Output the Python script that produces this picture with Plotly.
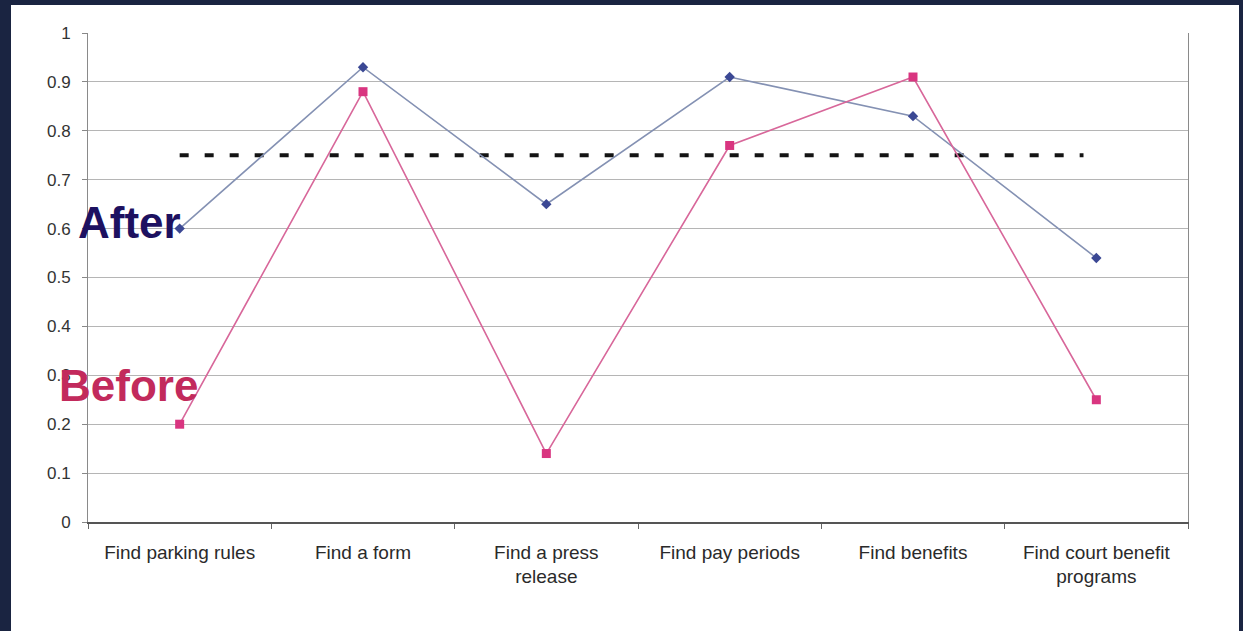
import plotly.graph_objects as go

categories = ["Find parking rules", "Find a form", "Find a press<br>release",
              "Find pay periods", "Find benefits", "Find court benefit<br>programs"]
after_vals = [0.60, 0.93, 0.65, 0.91, 0.83, 0.54]
before_vals = [0.20, 0.88, 0.14, 0.77, 0.91, 0.25]
target_val = 0.75
target_span = [0, 4.93]
y_ticks = [0, 0.1, 0.2, 0.3, 0.4, 0.5, 0.6, 0.7, 0.8, 0.9, 1]
y_ticktext = ["0", "0.1", "0.2", "0.3", "0.4", "0.5", "0.6", "0.7", "0.8", "0.9", "1"]

xs = list(range(len(categories)))
W, H = 1243, 631
L, R, T, B = 88, 55, 33, 109
pw, ph = W - L - R, H - T - B

def px_x(p):
    return (p - L) / pw

def px_y(p):
    return (H - B - p) / ph

fig = go.Figure()
fig.add_trace(go.Scatter(x=target_span, y=[target_val, target_val], mode="lines",
                         line=dict(color="#141414", width=4, dash="9px,16px"),
                         showlegend=False, hoverinfo="skip"))
fig.add_trace(go.Scatter(x=xs, y=after_vals, mode="lines+markers", name="After",
                         line=dict(color="#8491b3", width=1.6),
                         marker=dict(symbol="diamond", size=8, color="#3b4894"),
                         showlegend=False))
fig.add_trace(go.Scatter(x=xs, y=before_vals, mode="lines+markers", name="Before",
                         line=dict(color="#d8679a", width=1.6),
                         marker=dict(symbol="square", size=9, color="#d93580"),
                         showlegend=False))

fig.add_shape(type="rect", xref="paper", yref="paper",
              x0=px_x(11), x1=px_x(1239), y0=px_y(640), y1=px_y(5),
              fillcolor="white", line=dict(width=0), layer="below")

fig.add_annotation(text="<b>After</b>", xref="paper", yref="paper",
                   x=px_x(76), y=px_y(222), xanchor="left", yanchor="middle",
                   showarrow=False, font=dict(family="Liberation Sans, Arial", size=44, color="#1d1160"))
fig.add_annotation(text="<b>Before</b>", xref="paper", yref="paper",
                   x=px_x(57), y=px_y(385), xanchor="left", yanchor="middle",
                   showarrow=False, font=dict(family="Liberation Sans, Arial", size=44, color="#c22a5c"))

fig.update_layout(
    width=W, height=H,
    margin=dict(l=L, r=R, t=T, b=B),
    paper_bgcolor="#1a2441", plot_bgcolor="white",
    font=dict(family="Liberation Sans, Arial", color="#333333"),
    showlegend=False,
)
fig.update_xaxes(range=[-0.5, 5.5], tickvals=xs, ticktext=categories,
                 ticks="", showgrid=False, zeroline=False,
                 showline=True, linecolor="#555555", linewidth=1.5, mirror=False,
                 tickfont=dict(size=19, color="#2a2a2a"), ticklabelstandoff=12,
                 minor=dict(ticks="outside", tick0=0.5, dtick=1, ticklen=5, tickcolor="#666666", showgrid=False))
fig.update_yaxes(range=[0, 1], tickvals=y_ticks, ticktext=y_ticktext,
                 ticks="outside", ticklen=5, tickcolor="#888888",
                 showgrid=True, gridcolor="#b5b5b5", gridwidth=1, zeroline=False,
                 showline=True, linecolor="#8a8a8a", linewidth=1, mirror=True,
                 tickfont=dict(size=17, color="#333333"), ticklabelstandoff=8)

fig.write_html("out.html", config={"displayModeBar": False})
